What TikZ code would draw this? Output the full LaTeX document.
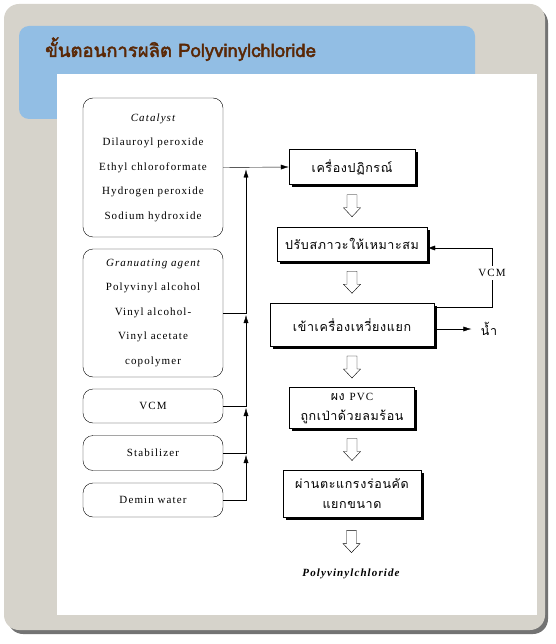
\documentclass[tikz,border=0pt]{standalone}
\usepackage{fontspec}
\setmainfont{Liberation Serif}
\newfontfamily\boxfont[LetterSpace=10]{Liberation Serif}
\newfontfamily\thaifont[Script=Thai, LetterSpace=5]{Loma}
\newfontfamily\titlefont[Script=Thai, FakeBold=2.5]{Loma}
\usetikzlibrary{positioning,arrows.meta,shadows,calc}
\definecolor{framegray}{RGB}{214,211,203}
\definecolor{headblue}{RGB}{146,190,228}
\definecolor{titlebrown}{RGB}{90,40,6}
\tikzset{
  hollow/.pic={\draw[fill=white] (-5,-11) -- (-5,2) -- (-8.5,2) -- (0,11) -- (8.5,2) -- (5,2) -- (5,-11) -- cycle;}
}
\begin{document}
\begin{tikzpicture}[x=1pt, y=-1pt,
    srcbox/.style={draw, rounded corners=10pt, minimum width=140pt, align=center,
      font=\boxfont\fontsize{11}{24.5}\selectfont},
    stepbox/.style={draw, fill=white, align=center, inner sep=0pt,
      drop shadow={shadow xshift=2.5pt, shadow yshift=-2.5pt, fill=black, opacity=1},
      font=\thaifont\fontsize{12.5}{20}\selectfont},
    tip/.style={-{Latex[length=8pt,width=5pt]}}]
\useasboundingbox (0,0) rectangle (555,644);
% frame
\fill[black!55, rounded corners=15pt] (8,8) rectangle (548,634);
\fill[framegray, rounded corners=15pt] (4,4) rectangle (545,630);
\fill[headblue, rounded corners=10pt] (19,26) rectangle (475,119);
\fill[white] (57,74) rectangle (537,615);
% title
\node[anchor=base west, inner sep=0pt, text=titlebrown,
  font=\titlefont\fontsize{18.5}{22}\selectfont] (title) at (45,57) {ขั้นตอนการผลิต Polyvinylchloride};

% inputs
\node[srcbox, minimum height=139pt] (cat) at (153,167.5)
  {{\itshape Catalyst}\\Dilauroyl peroxide\\Ethyl chloroformate\\Hydrogen peroxide\\Sodium hydroxide};
\node[srcbox, minimum height=128pt] (gran) at (153,313)
  {{\itshape Granuating agent}\\Polyvinyl alcohol\\Vinyl alcohol-\\Vinyl acetate\\copolymer};
\node[srcbox, minimum height=34pt] (vcm) at (153,406) {VCM};
\node[srcbox, minimum height=35pt] (stab) at (153,453) {Stabilizer};
\node[srcbox, minimum height=34pt] (demin) at (153,500) {Demin water};
\coordinate (bus) at (246,0);

% process steps
\node[stepbox, minimum width=126pt, minimum height=35pt] (reac) at (352,167) {เครื่องปฏิกรณ์};
\node[stepbox, minimum width=150pt, minimum height=34pt] (cond) at (352,244) {ปรับสภาวะให้เหมาะสม};
\node[stepbox, minimum width=164pt, minimum height=43pt] (sep) at (352,325) {เข้าเครื่องเหวี่ยงแยก};
\node[stepbox, minimum width=125pt, minimum height=41pt] (pvc) at (352,408)
  {ผง {\boxfont\fontsize{11}{20}\selectfont PVC}\\ถูกเป่าด้วยลมร้อน};
\node[stepbox, minimum width=138pt, minimum height=47pt] (sieve) at (352,494) {ผ่านตะแกรงร่อนคัด\\แยกขนาด};
\node[font=\boxfont\fontsize{11}{14}\selectfont\bfseries\itshape] (pvcout) at (351,574) {Polyvinylchloride};

\path ($(reac.south)!.5!(cond.north)$) pic {hollow};
\path ($(cond.south)!.5!(sep.north)$) pic {hollow};
\path ($(sep.south)!.5!(pvc.north)$) pic {hollow};
\path ($(pvc.south)!.5!(sieve.north)$) pic {hollow};
\path ($(sieve.south)!.5!(pvcout.north)$) pic {hollow};

% feed lines
\draw[tip] (cat.east) -- (reac.west);
\draw[tip] (gran.east) -| ($(bus|-cat.east)+(0,2)$);
\draw[tip] (vcm.east) -| ($(bus|-gran.east)+(0,2)$);
\draw[tip] (stab.east) -| ($(bus|-vcm.east)+(0,2)$);
\draw[tip] (demin.east) -| ($(bus|-stab.east)+(0,2)$);

% recycle and water
\node[font=\boxfont\fontsize{11}{14}\selectfont] (vcmr) at (492,273) {VCM};
\draw[tip] (vcmr.north) |- ($(cond.east)+(0,4)$);
\coordinate (vout) at ($(sep.north east)+(0,4)$);
\draw (vout) -| (vcmr.south);
\node[font=\thaifont\fontsize{12.5}{14}\selectfont] (h2o) at (489,329) {น้ำ};
\draw[tip] (sep.east|-h2o) -- ([xshift=-6pt]h2o.west);
\end{tikzpicture}
\end{document}
